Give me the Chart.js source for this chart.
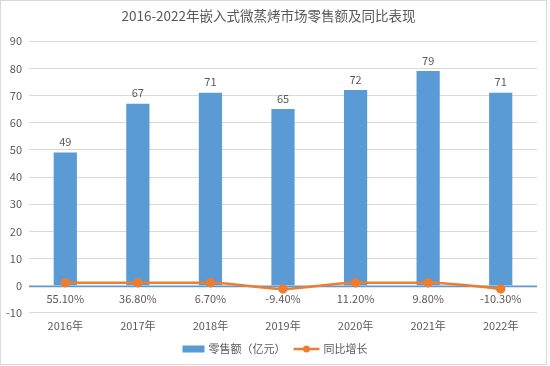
<!DOCTYPE html>
<html><head><meta charset="utf-8">
<script src="https://cdn.jsdelivr.net/npm/chart.js@4"></script>
<style>html,body{margin:0;padding:0;background:#fff}#wrap{width:550px;height:366px;position:relative}</style>
</head><body><div id="wrap"><canvas id="c" width="550" height="366"></canvas></div>
<script>
const categories = ["2016年","2017年","2018年","2019年","2020年","2021年","2022年"];
const sales = [49, 67, 71, 65, 72, 79, 71];
const growthLabels = ["55.10%","36.80%","6.70%","-9.40%","11.20%","9.80%","-10.30%"];
const growthPlotted = [1.1, 1.1, 1.1, -1.2, 1.1, 1.1, -1.2];
const yTicks = [-10, 0, 10, 20, 30, 40, 50, 60, 70, 80, 90];
const seriesNames = ["零售额（亿元）", "同比增长"];
const titleText = "2016-2022年嵌入式微蒸烤市场零售额及同比表现";

const FONT = "'Noto Sans CJK SC', 'Open Sans', sans-serif";
const BLUE = "#5B9BD5", ORANGE = "#ED7D31", TXT = "#595959";

const extras = {
  id: 'extras',
  afterDatasetsDraw(chart) {
    const ctx = chart.ctx, x = chart.scales.x, y = chart.scales.y;
    ctx.save();
    ctx.font = "11px " + FONT;
    ctx.fillStyle = TXT;
    ctx.textAlign = "center";
    ctx.textBaseline = "bottom";
    const bm = chart.getDatasetMeta(1);
    bm.data.forEach((b, i) => ctx.fillText(String(sales[i]), b.x, b.y - 5));
    ctx.textBaseline = "middle";
    growthLabels.forEach((t, i) => ctx.fillText(t, x.getPixelForValue(i), y.getPixelForValue(-5)));
    // legend
    const ly = 349;
    ctx.textAlign = "left";
    ctx.font = "11px " + FONT;
    const w1 = ctx.measureText(seriesNames[0]).width, w2 = ctx.measureText(seriesNames[1]).width;
    const total = 22 + 4 + w1 + 8 + 26 + 4 + w2;
    let sx = (chart.width - total) / 2;
    ctx.fillStyle = BLUE; ctx.fillRect(sx, ly - 3.5, 22, 7);
    sx += 26; ctx.fillStyle = TXT; ctx.fillText(seriesNames[0], sx, ly);
    sx += w1 + 8;
    ctx.strokeStyle = ORANGE; ctx.lineWidth = 2.5;
    ctx.beginPath(); ctx.moveTo(sx, ly); ctx.lineTo(sx + 26, ly); ctx.stroke();
    ctx.fillStyle = ORANGE; ctx.beginPath(); ctx.arc(sx + 13, ly, 3.5, 0, Math.PI * 2); ctx.fill();
    sx += 30; ctx.fillStyle = TXT; ctx.fillText(seriesNames[1], sx, ly);
    // border
    ctx.strokeStyle = "#d9d9d9"; ctx.lineWidth = 1;
    ctx.strokeRect(0.5, 0.5, 546, 364);
    ctx.restore();
  },
  beforeDatasetsDraw(chart) {
    const ctx = chart.ctx, y = chart.scales.y, a = chart.chartArea;
    ctx.save();
    ctx.strokeStyle = BLUE; ctx.lineWidth = 1.5;
    const py = Math.round(y.getPixelForValue(0)) + 0.5;
    ctx.beginPath(); ctx.moveTo(a.left, py); ctx.lineTo(a.right, py); ctx.stroke();
    ctx.restore();
  }
};

new Chart(document.getElementById('c'), {
  data: {
    labels: categories,
    datasets: [
      { type: 'line', label: seriesNames[1], data: growthPlotted, borderColor: ORANGE, backgroundColor: ORANGE,
        borderWidth: 2.5, pointRadius: 3.5, pointHoverRadius: 3.5, cubicInterpolationMode: 'monotone', order: 0 },
      { type: 'bar', label: seriesNames[0], data: sales, backgroundColor: BLUE,
        categoryPercentage: 1, barPercentage: 0.32, order: 1 }
    ]
  },
  options: {
    responsive: false, animation: false,
    layout: { padding: { left: 0, right: 13, top: 0, bottom: 28 } },
    plugins: {
      legend: { display: false }, tooltip: { enabled: false },
      title: { display: true, text: titleText, color: TXT, font: { family: FONT, size: 13.5, weight: 'normal' },
        padding: { top: 8, bottom: 17 } }
    },
    scales: {
      x: { grid: { display: false, drawTicks: false }, border: { display: false },
        ticks: { color: TXT, font: { family: FONT, size: 11 }, padding: 6 } },
      y: { min: -10, max: 90, afterBuildTicks(s) { s.ticks = yTicks.map(v => ({ value: v })); },
        afterFit(s) { s.width = 29; },
        grid: { color: "#d9d9d9", drawTicks: false, lineWidth: 1 }, border: { display: false },
        ticks: { color: TXT, font: { family: FONT, size: 11 }, padding: 7 } }
    }
  },
  plugins: [extras]
});
</script></body></html>
